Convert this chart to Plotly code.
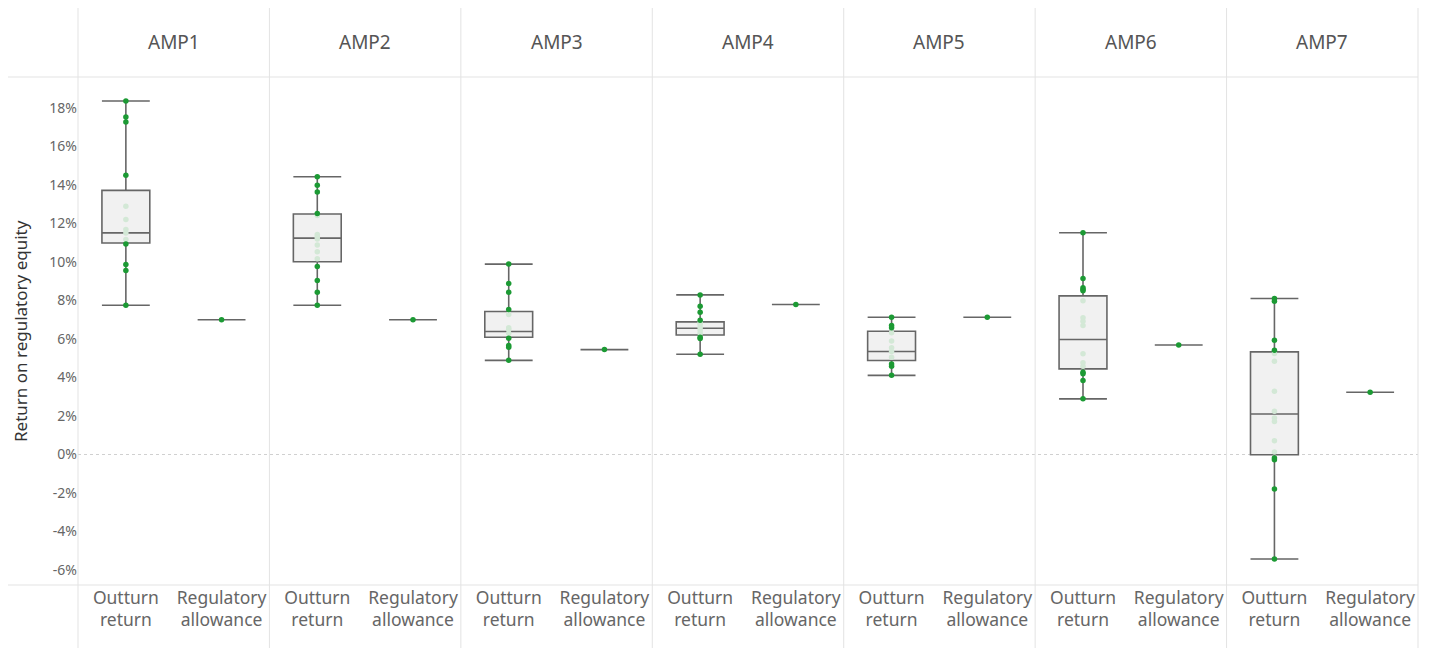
import plotly.graph_objects as go
from plotly.subplots import make_subplots

periods = ["AMP1", "AMP2", "AMP3", "AMP4", "AMP5", "AMP6", "AMP7"]
categories = ["Outturn<br>return", "Regulatory<br>allowance"]

# Outturn return points (% return on regulatory equity), per company
outturn_amp1 = [18.36, 17.53, 17.27, 14.50, 12.90, 12.21, 11.69, 11.51, 11.17, 10.93, 9.87, 9.56, 7.75]
outturn_amp2 = [14.43, 13.99, 13.63, 12.52, 12.42, 11.43, 11.31, 11.20, 10.88, 10.53, 10.17, 9.77, 9.04, 8.43, 7.75]
outturn_amp3 = [9.89, 8.88, 8.43, 7.53, 7.27, 6.58, 6.49, 6.30, 6.04, 5.66, 5.57, 4.89]
outturn_amp4 = [8.29, 7.70, 7.39, 6.97, 6.85, 6.75, 6.60, 6.45, 6.30, 6.09, 6.02, 5.21]
outturn_amp5 = [7.13, 6.70, 6.59, 6.32, 5.90, 5.54, 5.35, 5.05, 4.70, 4.58, 4.11]
outturn_amp6 = [11.52, 9.14, 8.66, 8.57, 8.50, 7.98, 7.10, 6.92, 6.70, 5.23, 4.76, 4.58, 4.27, 4.19, 3.84, 2.89]
outturn_amp7 = [8.10, 7.96, 5.93, 5.41, 5.24, 4.84, 3.28, 2.24, 1.90, 1.72, 0.72, 0.13, -0.18, -0.27, -1.79, -5.43]

# Box statistics (%)
box_q1 = [10.99, 10.01, 6.09, 6.21, 4.88, 4.45, -0.01]
box_median = [11.51, 11.24, 6.39, 6.56, 5.35, 5.97, 2.10]
box_q3 = [13.72, 12.49, 7.43, 6.89, 6.40, 8.24, 5.33]

# Regulatory allowance (%)
regulatory_allowance = [7.00, 7.00, 5.45, 7.79, 7.13, 5.69, 3.23]

y_tick_values = [-6, -4, -2, 0, 2, 4, 6, 8, 10, 12, 14, 16, 18]
y_tick_labels = ["-6%", "-4%", "-2%", "0%", "2%", "4%", "6%", "8%", "10%", "12%", "14%", "16%", "18%"]

outturn = [outturn_amp1, outturn_amp2, outturn_amp3, outturn_amp4,
           outturn_amp5, outturn_amp6, outturn_amp7]

FONT = "Noto Sans"
DARK_GREEN = "#1c9a34"
LIGHT_GREEN = "#d3e8d6"
SEP = "#e3e3e3"

fig = make_subplots(rows=1, cols=7, shared_yaxes=True, horizontal_spacing=0)

for i, name in enumerate(periods):
    pts = outturn[i]
    reg = regulatory_allowance[i]
    fig.add_trace(go.Box(
        x=categories,
        q1=[box_q1[i], reg],
        median=[box_median[i], reg],
        q3=[box_q3[i], reg],
        lowerfence=[min(pts), reg],
        upperfence=[max(pts), reg],
        fillcolor="#f1f1f1",
        line=dict(color="#666666", width=1.6),
        width=0.5,
        whiskerwidth=1,
        boxpoints=False,
        showlegend=False,
        hoverinfo="y",
    ), row=1, col=i + 1)

    colors = [LIGHT_GREEN if box_q1[i] < v < box_q3[i] else DARK_GREEN for v in pts]
    order = sorted(range(len(pts)), key=lambda k: 0 if colors[k] == LIGHT_GREEN else 1)
    xs = [categories[0] for _ in order] + [categories[1]]
    ys = [pts[k] for k in order] + [reg]
    cs = [colors[k] for k in order] + [DARK_GREEN]
    fig.add_trace(go.Scatter(
        x=xs, y=ys, mode="markers",
        marker=dict(color=cs, size=5.5, line=dict(width=0)),
        showlegend=False, hoverinfo="y",
    ), row=1, col=i + 1)

    fig.update_xaxes(
        type="category", categoryorder="array", categoryarray=categories,
        range=[-0.5, 1.5], showgrid=False, showline=False, zeroline=False,
        ticks="", tickfont=dict(family=FONT, size=17.5, color="#666666"),
        fixedrange=True,
        row=1, col=i + 1,
    )
    fig.add_annotation(
        text=name, x=(i + 0.5) / 7, y=(585 - 42) / 508, xref="paper", yref="paper",
        showarrow=False, font=dict(family=FONT, size=19, color="#555555"),
        xanchor="center", yanchor="middle",
    )

fig.update_yaxes(
    range=[-6.78, 19.61], tickvals=y_tick_values, ticktext=y_tick_labels,
    showgrid=False, zeroline=False, showline=False, ticks="",
    tickfont=dict(family=FONT, size=14, color="#666666"),
)

shapes = []
for k in range(8):
    shapes.append(dict(type="line", xref="paper", yref="paper",
                       x0=k / 7, x1=k / 7, y0=-0.14, y1=1.1417,
                       line=dict(color=SEP, width=1)))
for yy in (0, 1):
    shapes.append(dict(type="line", xref="paper", yref="paper",
                       x0=-0.0582, x1=1, y0=yy, y1=yy,
                       line=dict(color=SEP, width=1)))
shapes.append(dict(type="line", xref="paper", yref="y", x0=0, x1=1, y0=0, y1=0,
                   line=dict(color="#d0d0d0", width=1, dash="dot"), layer="below"))

fig.add_annotation(
    text="Return on regulatory equity", x=(20 - 78) / 1340, y=0.5,
    xref="paper", yref="paper", textangle=-90, showarrow=False,
    font=dict(family=FONT, size=17, color="#333333"),
    xanchor="center", yanchor="middle",
)

# The page adds an 8px offset on the left and top; size the figure so the
# plot area lands where the reference has it.
fig.update_layout(
    width=1424, height=640,
    margin=dict(l=70, r=14, t=69, b=63),
    paper_bgcolor="white", plot_bgcolor="white",
    shapes=shapes, boxmode="overlay",
    font=dict(family=FONT),
)

fig.write_html("out.html")
